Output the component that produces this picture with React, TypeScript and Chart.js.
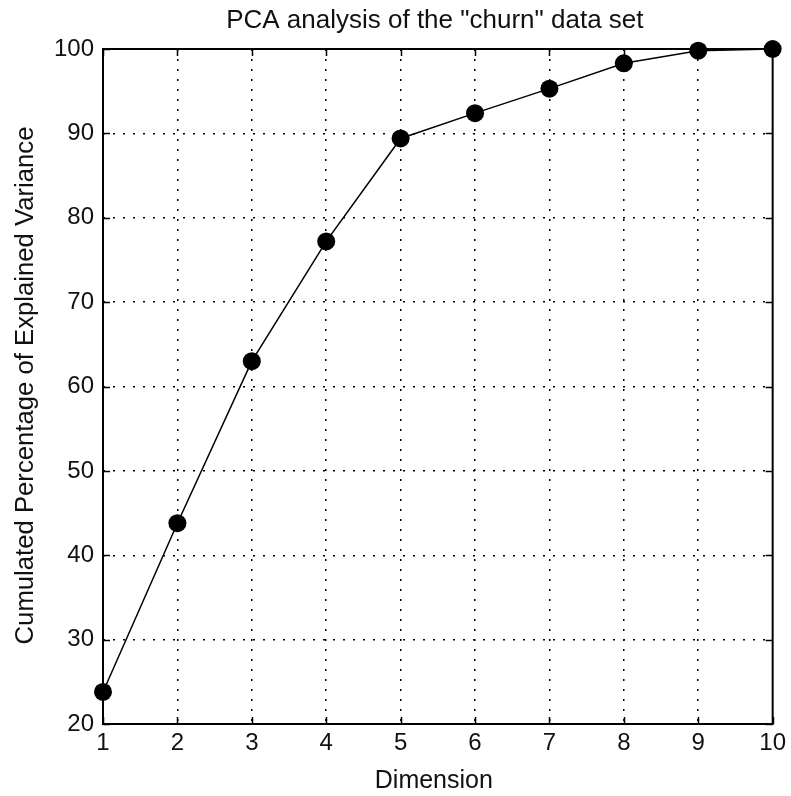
import React, { useEffect, useRef } from 'react';
import { Chart, registerables } from 'chart.js';

Chart.register(...registerables);

const dimensions = [1, 2, 3, 4, 5, 6, 7, 8, 9, 10];
const cumulatedVariance = [23.8, 43.8, 63.0, 77.2, 89.4, 92.4, 95.3, 98.3, 99.8, 100];
const xTickValues = [1, 2, 3, 4, 5, 6, 7, 8, 9, 10];
const yTickValues = [20, 30, 40, 50, 60, 70, 80, 90, 100];
const chartTitle = 'PCA analysis of the "churn" data set';
const xAxisTitle = 'Dimension';
const yAxisTitle = 'Cumulated Percentage of Explained Variance';

const FONT = '"Liberation Sans", Arial, sans-serif';
const TICK_SIZE = 24;

const framePlugin = {
  id: 'matlabFrame',
  beforeDatasetsDraw(chart: any) {
    const { ctx, chartArea } = chart;
    const { left, right, top, bottom } = chartArea;
    const xs = chart.scales.x;
    const ys = chart.scales.y;
    ctx.save();
    ctx.strokeStyle = '#000';
    ctx.lineWidth = 1.5;
    const tl = 7;
    ctx.beginPath();
    xTickValues.forEach((v) => {
      const px = Math.round(xs.getPixelForValue(v)) + 0.5;
      ctx.moveTo(px, bottom);
      ctx.lineTo(px, bottom - tl);
      ctx.moveTo(px, top);
      ctx.lineTo(px, top + tl);
    });
    yTickValues.forEach((v) => {
      const py = Math.round(ys.getPixelForValue(v)) + 0.5;
      ctx.moveTo(left, py);
      ctx.lineTo(left + tl, py);
      ctx.moveTo(right, py);
      ctx.lineTo(right - tl, py);
    });
    ctx.stroke();
    ctx.lineWidth = 2;
    ctx.strokeRect(left, top, right - left, bottom - top);
    ctx.restore();
  },
  afterDraw(chart: any) {
    const { ctx, chartArea } = chart;
    const cx = (chartArea.left + chartArea.right) / 2;
    const cy = (chartArea.top + chartArea.bottom) / 2;
    ctx.save();
    ctx.fillStyle = '#111';
    ctx.textAlign = 'center';
    ctx.textBaseline = 'alphabetic';
    ctx.font = `26px ${FONT}`;
    ctx.fillText(chartTitle, cx - 3, 28);
    ctx.font = `25px ${FONT}`;
    ctx.fillText(xAxisTitle, cx - 4, 788);
    ctx.font = `25.7px ${FONT}`;
    ctx.translate(33, cy - 1);
    ctx.rotate(-Math.PI / 2);
    ctx.fillText(yAxisTitle, 0, 0);
    ctx.restore();
  },
};

export default function App() {
  const canvasRef = useRef<HTMLCanvasElement | null>(null);

  useEffect(() => {
    const canvas = canvasRef.current;
    if (!canvas) return;
    const gridColor = (edgeA: number, edgeB: number) => (c: any) =>
      c.tick && (c.tick.value === edgeA || c.tick.value === edgeB) ? 'rgba(0,0,0,0)' : '#000';
    const chart = new Chart(canvas, {
      type: 'line',
      data: {
        datasets: [
          {
            data: dimensions.map((d, i) => ({ x: d, y: cumulatedVariance[i] })),
            borderColor: '#000',
            borderWidth: 1.5,
            backgroundColor: '#000',
            pointBackgroundColor: '#000',
            pointBorderColor: '#000',
            pointBorderWidth: 0,
            pointRadius: 9,
            pointStyle: 'circle',
            tension: 0,
            fill: false,
            clip: false,
          },
        ],
      },
      options: {
        responsive: false,
        animation: false,
        events: [],
        layout: { padding: { left: 0, right: 13, top: 49, bottom: 0 } },
        plugins: {
          legend: { display: false },
          title: { display: false },
          tooltip: { enabled: false },
        },
        scales: {
          x: {
            type: 'linear',
            min: 1,
            max: 10,
            afterFit: (scale: any) => {
              scale.height = 72;
            },
            afterBuildTicks: (scale: any) => {
              scale.ticks = xTickValues.map((v) => ({ value: v }));
            },
            border: { display: false, dash: [2, 8] },
            grid: {
              color: gridColor(1, 10),
              lineWidth: 1.5,
              drawTicks: false,
            },
            ticks: {
              color: '#111',
              font: { family: FONT, size: TICK_SIZE },
              padding: 5,
              maxRotation: 0,
              autoSkip: false,
            },
          },
          y: {
            type: 'linear',
            min: 20,
            max: 100,
            afterFit: (scale: any) => {
              scale.width = 103;
            },
            afterBuildTicks: (scale: any) => {
              scale.ticks = yTickValues.map((v) => ({ value: v }));
            },
            border: { display: false, dash: [2, 8] },
            grid: {
              color: gridColor(20, 100),
              lineWidth: 1.5,
              drawTicks: false,
            },
            ticks: {
              color: '#111',
              font: { family: FONT, size: TICK_SIZE },
              padding: 9,
              autoSkip: false,
            },
          },
        },
      },
      plugins: [
        {
          id: 'whiteBg',
          beforeDraw(chart: any) {
            const ctx = chart.ctx;
            ctx.save();
            ctx.fillStyle = '#fff';
            ctx.fillRect(0, 0, chart.width, chart.height);
            ctx.restore();
          },
        },
        framePlugin,
      ],
    });
    return () => chart.destroy();
  }, []);

  return (
    <div style={{ position: 'absolute', left: 0, top: 0, width: 791, height: 796, background: '#fff' }}>
      <canvas ref={canvasRef} width={791} height={796} style={{ display: 'block' }} />
    </div>
  );
}
